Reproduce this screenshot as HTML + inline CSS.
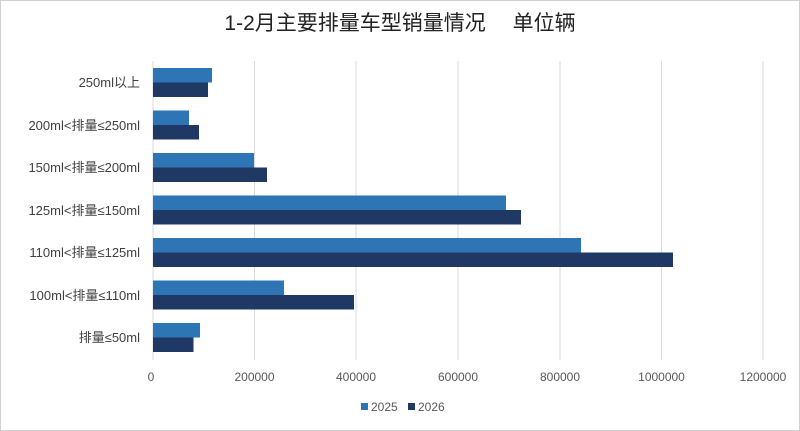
<!DOCTYPE html>
<html><head><meta charset="utf-8"><style>
body{margin:0;background:#fff}
svg{display:block;font-family:"Liberation Sans","Noto Sans CJK SC",sans-serif}
</style></head><body>
<svg width="800" height="431" xmlns="http://www.w3.org/2000/svg">
<rect x="0.5" y="0.5" width="799" height="430" fill="#fff" stroke="#d0d0d0"/>
<text x="400" y="30" text-anchor="middle" font-size="21" fill="#222">1-2月主要排量车型销量情况　 单位辆</text>
<g stroke="#d9d9d9" stroke-width="1">
<line x1="153" y1="61" x2="153" y2="360"/>
<line x1="254.5" y1="61" x2="254.5" y2="360"/>
<line x1="356" y1="61" x2="356" y2="360"/>
<line x1="458" y1="61" x2="458" y2="360"/>
<line x1="560" y1="61" x2="560" y2="360"/>
<line x1="661.5" y1="61" x2="661.5" y2="360"/>
<line x1="763" y1="61" x2="763" y2="360"/>
</g>
<g fill="#2E75B6">
<rect x="153" y="68" width="59" height="14.5"/>
<rect x="153" y="110.5" width="36" height="14.5"/>
<rect x="153" y="153" width="101" height="14.5"/>
<rect x="153" y="195.5" width="353" height="14.5"/>
<rect x="153" y="238" width="428" height="14.5"/>
<rect x="153" y="280.5" width="131" height="14.5"/>
<rect x="153" y="323" width="47" height="14.5"/>
</g>
<g fill="#203864">
<rect x="153" y="82.5" width="55" height="14.5"/>
<rect x="153" y="125" width="46" height="14.5"/>
<rect x="153" y="167.5" width="114" height="14.5"/>
<rect x="153" y="210" width="368" height="14.5"/>
<rect x="153" y="252.5" width="520" height="14.5"/>
<rect x="153" y="295" width="201" height="14.5"/>
<rect x="153" y="337.5" width="40.5" height="14.5"/>
</g>
<g font-size="13" fill="#404040" text-anchor="end">
<text x="140" y="87">250ml以上</text>
<text x="140" y="130">200ml&lt;排量≤250ml</text>
<text x="140" y="172">150ml&lt;排量≤200ml</text>
<text x="140" y="215">125ml&lt;排量≤150ml</text>
<text x="140" y="257">110ml&lt;排量≤125ml</text>
<text x="140" y="300">100ml&lt;排量≤110ml</text>
<text x="140" y="342">排量≤50ml</text>
</g>
<g font-size="12" fill="#595959" text-anchor="middle">
<text x="151" y="381">0</text>
<text x="254.5" y="381">200000</text>
<text x="356" y="381">400000</text>
<text x="458" y="381">600000</text>
<text x="560" y="381">800000</text>
<text x="661.5" y="381">1000000</text>
<text x="763" y="381">1200000</text>
</g>
<rect x="361" y="403" width="7" height="7" fill="#2E75B6"/>
<text x="371" y="411" font-size="12" fill="#595959">2025</text>
<rect x="408" y="403" width="7" height="7" fill="#203864"/>
<text x="418" y="411" font-size="12" fill="#595959">2026</text>
</svg>
</body></html>
